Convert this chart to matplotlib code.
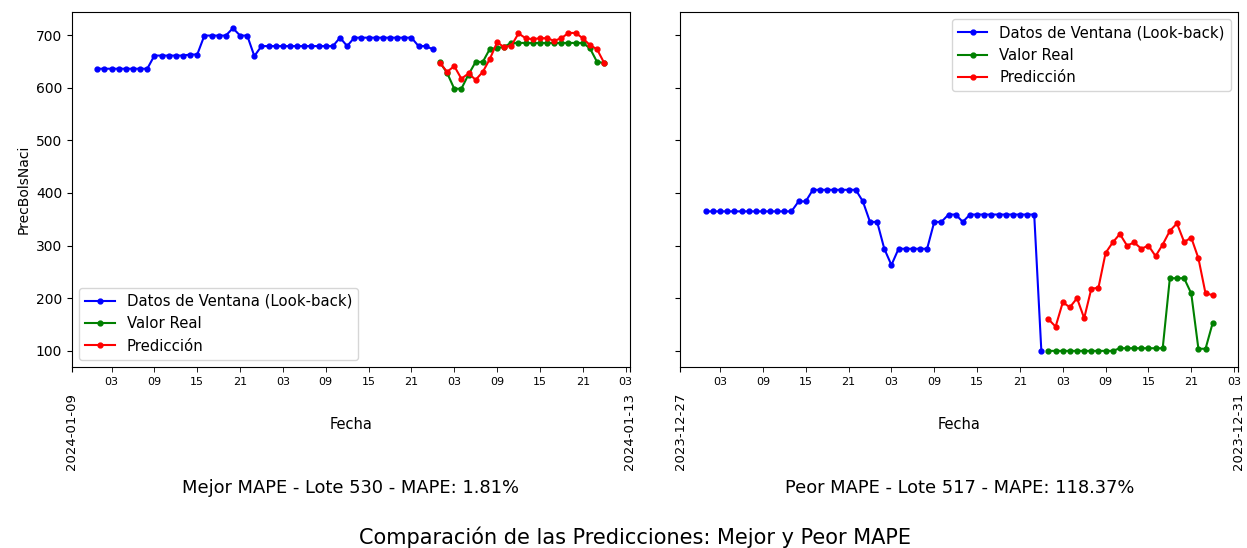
import matplotlib
matplotlib.use("Agg")
import matplotlib.pyplot as plt
import matplotlib.dates as mdates
from matplotlib.ticker import FixedLocator, FixedFormatter
import pandas as pd

# --- data (hourly, 48 h look-back + 24 h horizon) ---
best_start = "2024-01-09 01:00"
best_edge_labels = ["2024-01-09", "2024-01-13"]
best_title = "Mejor MAPE - Lote 530 - MAPE: 1.81%"
best_window = [636] * 8 + [661, 661, 661, 661, 661, 663, 663] + [699, 699, 699, 699, 713, 699, 699] \
    + [660] + [679] * 11 + [695, 679] + [695] * 9 + [679, 679, 673]
best_real = [648, 628, 598, 598, 625, 649, 649, 674, 675, 678, 685, 685,
             685, 685, 685, 685, 685, 685, 685, 685, 685, 675, 649, 647]
best_pred = [647, 630, 641, 617, 627, 615, 630, 655, 686, 677, 680, 703,
             694, 692, 694, 694, 689, 694, 704, 704, 694, 681, 673, 647]

worst_start = "2023-12-27 01:00"
worst_edge_labels = ["2023-12-27", "2023-12-31"]
worst_title = "Peor MAPE - Lote 517 - MAPE: 118.37%"
worst_window = [365] * 13 + [384, 384] + [406] * 7 + [384, 345, 345, 294, 263] + [294] * 5 \
    + [345, 345, 359, 359, 345] + [359] * 10 + [100]
worst_real = [100] * 10 + [105] * 7 + [238, 238, 238, 209, 104, 104, 153]
worst_pred = [160, 146, 192, 183, 200, 162, 218, 220, 286, 306, 322, 300,
              306, 294, 300, 280, 302, 328, 342, 307, 315, 276, 209, 206]

fig, axes = plt.subplots(1, 2, figsize=(12.47, 5.48), dpi=100, sharey=True)
fig.subplots_adjust(left=0.0577, right=0.9928, bottom=0.3303, top=0.978, wspace=0.0914)

panels = [
    (axes[0], best_start, best_window, best_real, best_pred, best_edge_labels, best_title, "lower left"),
    (axes[1], worst_start, worst_window, worst_real, worst_pred, worst_edge_labels, worst_title, "upper right"),
]

for ax, start, window, real, pred, edge_labels, title, loc in panels:
    t0 = pd.Timestamp(start)
    x_hist = pd.date_range(t0, periods=len(window), freq="h")
    x_fut = pd.date_range(t0 + pd.Timedelta(hours=len(window)), periods=len(real), freq="h")

    ax.plot(x_hist, window, color="blue", marker=".", markersize=7, label="Datos de Ventana (Look-back)")
    ax.plot(x_fut, real, color="green", marker=".", markersize=7, label="Valor Real")
    ax.plot(x_fut, pred, color="red", marker=".", markersize=7, label="Predicción")

    lo, hi = ax.get_xlim()
    ax.set_xlim(lo, hi)
    ax.xaxis.set_major_locator(FixedLocator([lo, hi]))
    ax.xaxis.set_major_formatter(FixedFormatter(edge_labels))
    ax.xaxis.set_minor_locator(mdates.HourLocator(byhour=[3, 9, 15, 21]))
    ax.xaxis.set_minor_formatter(mdates.DateFormatter("%H"))
    ax.tick_params(axis="x", which="major", labelrotation=90, pad=15, labelsize=9.5)
    ax.tick_params(axis="x", which="minor", length=3.5, labelsize=8)

    ax.set_xlabel("Fecha", fontsize=10.5)
    ax.xaxis.set_label_coords(0.5, -0.14)
    ax.legend(loc=loc, fontsize=10.7)

    pos = ax.get_position()
    fig.text((pos.x0 + pos.x1) / 2, 0.1095, title, ha="center", va="center", fontsize=12.9)

axes[0].set_ylabel("PrecBolsNaci")
axes[0].set_yticks([100, 200, 300, 400, 500, 600, 700])

fig.text(0.509, 0.02, "Comparación de las Predicciones: Mejor y Peor MAPE",
         ha="center", va="center", fontsize=15)

fig.savefig("out.png", dpi=100)
